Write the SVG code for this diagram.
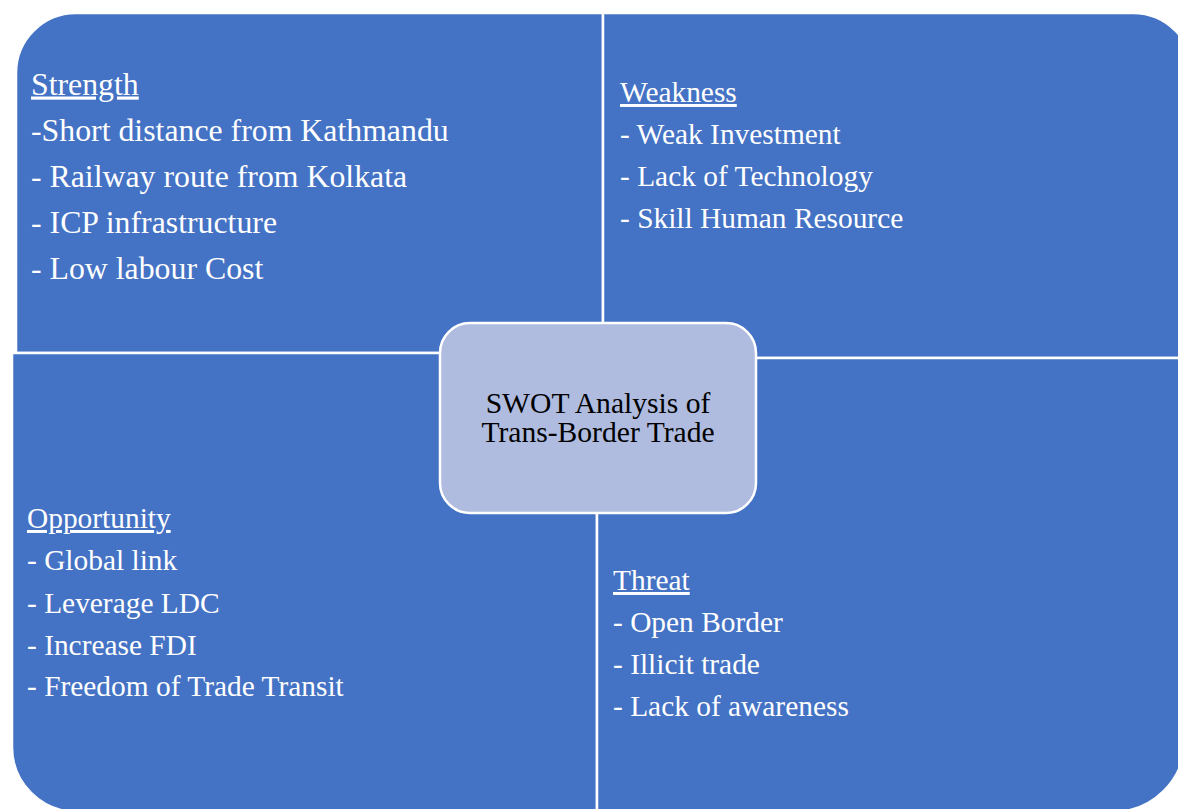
<svg xmlns="http://www.w3.org/2000/svg" width="1178" height="809" viewBox="0 0 1178 809">
<style>
.q{fill:#4472C4;stroke:#FFFFFF;stroke-width:2.5}
.c{fill:#AFBCDF;stroke:#FFFFFF;stroke-width:2.5}
.t{font-family:"Liberation Serif","Times New Roman",serif;fill:#FFFFFF}
.s{font-size:31.8px}
.m{font-size:29.4px}
.u{text-decoration:underline}
.ct{font-family:"Liberation Serif","Times New Roman",serif;fill:#000000;font-size:29.6px;text-anchor:middle}
</style>
<rect width="1178" height="809" fill="#FFFFFF"/>
<g id="strength">
<path class="q" d="M16 73 A60 60 0 0 1 76 13 L603 13 L603 353 L16 353 Z"/>
<text class="t s" x="31" y="94.5"><tspan class="u">Strength</tspan></text>
<text class="t s" x="31" y="140.5">-Short distance from Kathmandu</text>
<text class="t s" x="31" y="186.5">- Railway route from Kolkata</text>
<text class="t s" x="31" y="232.5">- ICP infrastructure</text>
<text class="t s" x="31" y="278.5">- Low labour Cost</text>
</g>
<g id="weakness">
<path class="q" d="M603 13 L1133 13 A60 60 0 0 1 1193 73 L1193 358 L603 358 Z"/>
<text class="t m" x="620" y="102"><tspan class="u">Weakness</tspan></text>
<text class="t m" x="620" y="143.5">- Weak Investment</text>
<text class="t m" x="620" y="185.5">- Lack of Technology</text>
<text class="t m" x="620" y="227.5">- Skill Human Resource</text>
</g>
<g id="opportunity">
<path class="q" d="M12 353 L597 353 L597 812 L77 812 A65 65 0 0 1 12 747 Z"/>
<text class="t m" x="27" y="528"><tspan class="u">Opportunity</tspan></text>
<text class="t m" x="27" y="570">- Global link</text>
<text class="t m" x="27" y="612.5">- Leverage LDC</text>
<text class="t m" x="27" y="654.5">- Increase FDI</text>
<text class="t m" x="27" y="696">- Freedom of Trade Transit</text>
</g>
<g id="threat">
<path class="q" d="M597 358 L1185 358 L1185 740 A72 72 0 0 1 1113 812 L597 812 Z"/>
<text class="t m" x="613" y="590"><tspan class="u">Threat</tspan></text>
<text class="t m" x="613" y="632">- Open Border</text>
<text class="t m" x="613" y="674">- Illicit trade</text>
<text class="t m" x="613" y="716">- Lack of awareness</text>
</g>
<g id="center">
<rect class="c" x="440" y="323" width="316" height="190" rx="30" ry="30"/>
<text class="ct" x="598" y="412.5">SWOT Analysis of</text>
<text class="ct" x="598" y="441.5">Trans-Border Trade</text>
</g>
<g id="connectors"></g>
</svg>
